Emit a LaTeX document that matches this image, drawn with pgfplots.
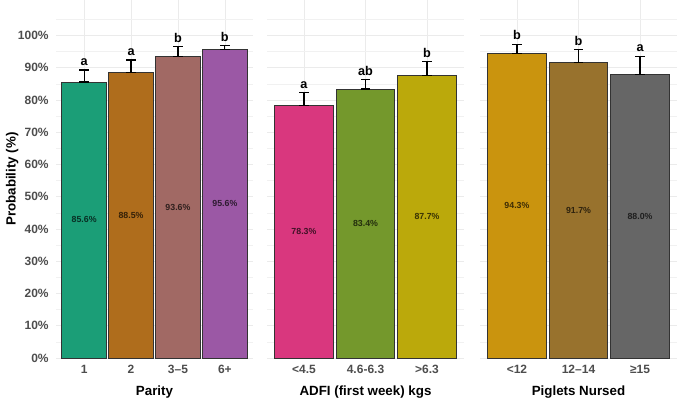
\documentclass[border=0pt]{standalone}
\usepackage{fontspec}
\setmainfont{Liberation Sans}
\usepackage{pgfplots}
\pgfplotsset{compat=1.18}
\definecolor{c1}{HTML}{1B9E77}
\definecolor{c2}{HTML}{AF6D1C}
\definecolor{c3}{HTML}{A16964}
\definecolor{c4}{HTML}{9B58A5}
\definecolor{c5}{HTML}{D9377E}
\definecolor{c6}{HTML}{74982C}
\definecolor{c7}{HTML}{BBA90B}
\definecolor{c8}{HTML}{CA940E}
\definecolor{c9}{HTML}{98722D}
\definecolor{c10}{HTML}{666666}
\definecolor{gridc}{HTML}{EBEBEB}
\definecolor{tickc}{HTML}{4D4D4D}
\definecolor{barline}{HTML}{333333}
% #1 x, #2 value, #3 err+, #4 colour, #5 letter, #6 error top, #7 half value, #8 label
\newcommand{\onebar}[8]{%
  \addplot[ybar, bar shift=0pt, bar width=0.95, fill=#4, draw=barline, line width=0.6pt,
    error bars/.cd, y dir=both, y explicit, error mark=|,
    error bar style={line width=0.9pt, black},
    error mark options={line width=0.9pt, black, mark size=3.5pt}]
    coordinates {(#1,#2) += (0,#3) -= (0,0)};
  \node[anchor=base, inner sep=0pt, font=\bfseries\fontsize{9.5}{9.5}\selectfont] at (axis cs:#1,#6) [yshift=3.4pt] {#5};
  \node[anchor=center, inner sep=0pt, text=#4!30!black, font=\bfseries\fontsize{6.6}{6.6}\selectfont] at (axis cs:#1,#7) {#8};
}
\pgfplotsset{panel/.style={
  scale only axis, width=147.75pt, height=268.5pt,
  ymin=0, ymax=111, anchor=south west,
  axis line style={draw=none}, major tick length=0pt, minor tick length=0pt,
  ytick={0,10,20,30,40,50,60,70,80,90,100},
  minor ytick={5,15,25,35,45,55,65,75,85,95,105},
  ymajorgrids, yminorgrids, xmajorgrids,
  major grid style={gridc, line width=0.5pt},
  minor grid style={gridc!70, line width=0.4pt},
  tick label style={font=\bfseries\fontsize{9}{9}\selectfont, text=tickc},
  /pgf/number format/assume math mode=true,
  xticklabel style={yshift=-2pt},
  every axis x label/.style={at={(axis description cs:0.5,-0.095)}, anchor=center, font=\bfseries\fontsize{10}{10}\selectfont},
  every axis y label/.style={at={(axis description cs:-0.223,0.5)}, rotate=90, anchor=center, font=\bfseries\fontsize{10}{10}\selectfont},
  clip=false,
}}
\begin{document}
\begin{tikzpicture}
\useasboundingbox (0,0) rectangle (510pt,301.5pt);
% Panel 1: Parity
\begin{axis}[panel, at={(42pt,33pt)}, xmin=-0.6, xmax=3.6,
  xtick={0,1,2,3}, xticklabels={1,2,3–5,6+},
  yticklabels={0\%,10\%,20\%,30\%,40\%,50\%,60\%,70\%,80\%,90\%,100\%},
  yticklabel style={xshift=-2pt},
  xlabel={Parity}, ylabel={Probability (\%)}]
\onebar{0}{85.6}{3.7}{c1}{a}{89.3}{42.8}{85.6\%}
\onebar{1}{88.5}{3.9}{c2}{a}{92.4}{44.25}{88.5\%}
\onebar{2}{93.6}{2.9}{c3}{b}{96.5}{46.8}{93.6\%}
\onebar{3}{95.6}{1.2}{c4}{b}{96.8}{47.8}{95.6\%}
\end{axis}
% Panel 2: ADFI
\begin{axis}[panel, at={(200.25pt,33pt)}, xmin=-0.6, xmax=2.6,
  xtick={0,1,2}, xticklabels={<4.5,4.6-6.3,>6.3},
  yticklabels={},
  xlabel={ADFI (first week) kgs}]
\onebar{0}{78.3}{4.0}{c5}{a}{82.3}{39.15}{78.3\%}
\onebar{1}{83.4}{2.9}{c6}{ab}{86.3}{41.7}{83.4\%}
\onebar{2}{87.7}{4.2}{c7}{b}{91.9}{43.85}{87.7\%}
\end{axis}
% Panel 3: Piglets Nursed
\begin{axis}[panel, at={(360pt,33pt)}, xmin=-0.6, xmax=2.6,
  xtick={0,1,2}, xticklabels={<12,12–14,≥15},
  yticklabels={},
  xlabel={Piglets Nursed}]
\onebar{0}{94.3}{2.9}{c8}{b}{97.2}{47.15}{94.3\%}
\onebar{1}{91.7}{3.9}{c9}{b}{95.6}{45.85}{91.7\%}
\onebar{2}{88.0}{5.6}{c10}{a}{93.6}{44.0}{88.0\%}
\end{axis}
\end{tikzpicture}
\end{document}
